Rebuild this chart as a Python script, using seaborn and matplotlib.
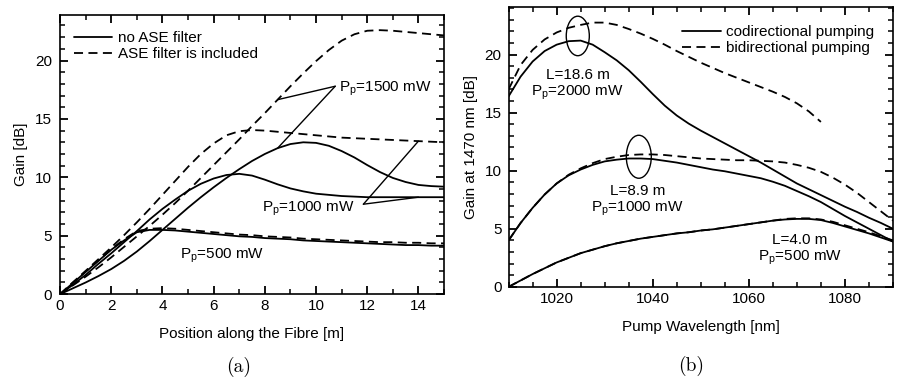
import numpy as np
import pandas as pd
import matplotlib
matplotlib.use("Agg")
import matplotlib.pyplot as plt
from matplotlib.lines import Line2D
from matplotlib.patches import Ellipse
from matplotlib.ticker import MultipleLocator
import seaborn as sns

# ---- data, panel (a): gain along the fibre ----
pos_m = np.arange(0, 15.01, 0.5)
gain_500_noase = [0, 0.95, 1.9, 2.85, 3.8, 4.6, 5.3, 5.5, 5.5, 5.45, 5.35, 5.25, 5.15, 5.05, 4.95, 4.9,
                  4.8, 4.75, 4.7, 4.6, 4.55, 4.5, 4.45, 4.4, 4.35, 4.3, 4.25, 4.2, 4.2, 4.15, 4.15]
gain_500_ase = [0, 1.0, 1.95, 2.9, 3.85, 4.7, 5.4, 5.6, 5.65, 5.6, 5.5, 5.4, 5.3, 5.2, 5.1, 5.05,
                4.95, 4.9, 4.85, 4.75, 4.7, 4.65, 4.6, 4.55, 4.5, 4.45, 4.45, 4.4, 4.4, 4.35, 4.35]
gain_1000_noase = [0, 0.8, 1.65, 2.6, 3.5, 4.45, 5.4, 6.4, 7.3, 8.1, 8.85, 9.45, 9.9, 10.2, 10.3, 10.15,
                   9.8, 9.4, 9.05, 8.8, 8.6, 8.5, 8.4, 8.35, 8.3, 8.3, 8.3, 8.3, 8.3, 8.3, 8.3]
gain_1000_ase = [0, 1.0, 2.0, 3.0, 4.0, 5.05, 6.15, 7.3, 8.5, 9.7, 10.9, 12.0, 12.9, 13.6, 13.95, 14.05,
                 14.0, 13.9, 13.8, 13.7, 13.6, 13.5, 13.4, 13.35, 13.3, 13.25, 13.2, 13.15, 13.1, 13.05, 13.0]
gain_1500_noase = [0, 0.5, 1.0, 1.55, 2.15, 2.85, 3.65, 4.55, 5.5, 6.45, 7.4, 8.3, 9.15, 9.95, 10.7, 11.4,
                   12.0, 12.5, 12.85, 13.0, 12.95, 12.7, 12.25, 11.7, 11.05, 10.45, 9.95, 9.6, 9.35, 9.25, 9.2]
gain_1500_ase = [0, 0.75, 1.5, 2.3, 3.15, 4.05, 4.95, 5.85, 6.8, 7.8, 8.85, 9.95, 11.05, 12.15, 13.25, 14.4,
                 15.5, 16.65, 17.8, 18.9, 19.95, 20.9, 21.7, 22.25, 22.55, 22.6, 22.55, 22.45, 22.35, 22.25, 22.15]

# ---- data, panel (b): gain at 1470 nm vs pump wavelength ----
wl_nm = np.arange(1010, 1090.1, 2.5)
g186_co = [16.4, 18.1, 19.4, 20.3, 20.85, 21.15, 21.2, 20.85, 20.2, 19.5, 18.65, 17.65, 16.6, 15.6, 14.75,
           14.05, 13.45, 12.9, 12.35, 11.8, 11.25, 10.7, 10.1, 9.5, 8.9, 8.4, 7.9, 7.4, 6.9, 6.45, 5.95, 5.5, 5.0]
g186_bi = [17.0, 19.1, 20.4, 21.3, 21.9, 22.3, 22.55, 22.75, 22.75, 22.55, 22.2, 21.8, 21.35, 20.85, 20.3,
           19.8, 19.3, 18.85, 18.4, 18.0, 17.6, 17.2, 16.8, 16.35, 15.8, 15.1, 14.2]
g89_co = [4.0, 5.5, 6.8, 7.95, 8.9, 9.6, 10.1, 10.5, 10.8, 10.95, 11.05, 11.05, 11.0, 10.85, 10.7, 10.5,
          10.3, 10.1, 9.95, 9.75, 9.55, 9.35, 9.05, 8.7, 8.25, 7.8, 7.3, 6.7, 6.1, 5.55, 5.0, 4.45, 3.9]
g89_bi = [4.0, 5.5, 6.8, 7.95, 8.9, 9.65, 10.2, 10.65, 11.0, 11.2, 11.35, 11.4, 11.4, 11.35, 11.25, 11.15,
          11.05, 11.0, 10.95, 10.9, 10.9, 10.85, 10.8, 10.7, 10.5, 10.25, 9.9, 9.4, 8.8, 8.1, 7.3, 6.5, 5.7]
g40_co = [0.0, 0.55, 1.1, 1.6, 2.1, 2.5, 2.9, 3.2, 3.5, 3.75, 3.95, 4.15, 4.3, 4.45, 4.6, 4.7,
          4.85, 4.95, 5.1, 5.25, 5.4, 5.55, 5.7, 5.8, 5.85, 5.85, 5.75, 5.5, 5.2, 4.9, 4.6, 4.25, 3.9]
g40_bi = [0.0, 0.55, 1.1, 1.6, 2.1, 2.5, 2.9, 3.2, 3.5, 3.75, 3.95, 4.15, 4.3, 4.45, 4.6, 4.7,
          4.85, 4.95, 5.1, 5.25, 5.4, 5.55, 5.7, 5.85, 5.9, 5.9, 5.8, 5.6, 5.3, 5.0, 4.7, 4.35, 4.0]

filters = ["no ASE filter", "ASE filter is included"]
pumping = ["codirectional pumping", "bidirectional pumping"]

rows = []
for name, filt, vals in [("500", filters[0], gain_500_noase), ("500", filters[1], gain_500_ase),
                         ("1000", filters[0], gain_1000_noase), ("1000", filters[1], gain_1000_ase),
                         ("1500", filters[0], gain_1500_noase), ("1500", filters[1], gain_1500_ase)]:
    for x, y in zip(pos_m, vals):
        rows.append({"pos": x, "gain": y, "curve": name + filt, "filter": filt})
df_a = pd.DataFrame(rows)

rows = []
for name, mode, vals in [("18.6", pumping[0], g186_co), ("18.6", pumping[1], g186_bi),
                         ("8.9", pumping[0], g89_co), ("8.9", pumping[1], g89_bi),
                         ("4.0", pumping[0], g40_co), ("4.0", pumping[1], g40_bi)]:
    for x, y in zip(wl_nm, vals):
        rows.append({"wl": x, "gain": y, "curve": name + mode, "mode": mode})
df_b = pd.DataFrame(rows)

sns.set_theme(style="ticks")
plt.rcParams.update({
    "font.family": ["Liberation Sans", "DejaVu Sans"],
    "font.size": 11,
    "xtick.labelsize": 11, "ytick.labelsize": 11, "axes.labelsize": 11, "legend.fontsize": 11,
    "mathtext.fontset": "custom", "mathtext.rm": "Liberation Sans",
    "mathtext.it": "Liberation Sans:italic", "mathtext.default": "regular",
    "axes.edgecolor": "black", "axes.linewidth": 1.2,
    "text.color": "black", "axes.labelcolor": "black",
    "xtick.direction": "in", "ytick.direction": "in",
})

fig = plt.figure(figsize=(8.97, 3.84), dpi=100)
ax1 = fig.add_axes([0.067, 0.234, 0.428, 0.727])
ax2 = fig.add_axes([0.567, 0.253, 0.4285, 0.729])

dash = (5, 3)
sns.lineplot(data=df_a, x="pos", y="gain", units="curve", estimator=None, style="filter",
             dashes={filters[0]: "", filters[1]: dash}, color="black", lw=1.3,
             legend=False, ax=ax1)
sns.lineplot(data=df_b, x="wl", y="gain", units="curve", estimator=None, style="mode",
             dashes={pumping[0]: "", pumping[1]: dash}, color="black", lw=1.3,
             legend=False, ax=ax2)

# panel (a)
ax1.set_xlim(0, 15)
ax1.set_ylim(0, 23.9)
ax1.xaxis.set_major_locator(MultipleLocator(2))
ax1.xaxis.set_minor_locator(MultipleLocator(1))
ax1.set_xlabel("Position along the Fibre [m]", labelpad=10)
ax1.set_ylabel("Gain [dB]", labelpad=5)

# panel (b)
ax2.set_xlim(1010, 1090)
ax2.set_ylim(0, 24.1)
ax2.xaxis.set_major_locator(MultipleLocator(20))
ax2.xaxis.set_minor_locator(MultipleLocator(5))
ax2.set_xlabel("Pump Wavelength [nm]", labelpad=10)
ax2.set_ylabel("Gain at 1470 nm [dB]", labelpad=5)

for ax in (ax1, ax2):
    ax.yaxis.set_major_locator(MultipleLocator(5))
    ax.yaxis.set_minor_locator(MultipleLocator(1))
    ax.tick_params(which="both", direction="in", top=True, right=True, color="black",
                   labelcolor="black")
    ax.tick_params(which="major", length=5.5, width=1.3)
    ax.tick_params(which="minor", length=3.5, width=1.1)
ax1.tick_params(axis="y", which="major", pad=6)
ax2.tick_params(axis="y", which="major", pad=5)

handles = [Line2D([], [], color="black", lw=1.3),
           Line2D([], [], color="black", lw=1.3, dashes=dash)]
ax1.legend(handles, filters, loc="upper left", bbox_to_anchor=(0.037, 0.943), frameon=False,
           borderaxespad=0, borderpad=0, handlelength=2.5, handletextpad=0.35, labelspacing=0.15)

def at(series, xs, x):
    return series[list(xs).index(x)]

ax1.text(10.9, 17.6, "P$_p$=1500 mW", ha="left", va="center")
for ys in (gain_1500_ase, gain_1500_noase):
    ax1.annotate("", xy=(8.5, at(ys, pos_m, 8.5)), xytext=(10.75, 17.8),
                 arrowprops=dict(arrowstyle="-", color="black", lw=1.0, shrinkA=0, shrinkB=0))
ax1.text(7.9, 7.3, "P$_p$=1000 mW", ha="left", va="center")
for ys in (gain_1000_ase, gain_1000_noase):
    ax1.annotate("", xy=(14, at(ys, pos_m, 14)), xytext=(11.85, 7.7),
                 arrowprops=dict(arrowstyle="-", color="black", lw=1.0, shrinkA=0, shrinkB=0))
ax1.text(4.7, 3.25, "P$_p$=500 mW", ha="left", va="center")

ax2.legend(handles, pumping, loc="upper left", bbox_to_anchor=(0.45, 0.935), frameon=False,
           borderaxespad=0, borderpad=0, handlelength=2.6, handletextpad=0.3, labelspacing=0.15)

ax2.add_patch(Ellipse((1024.4, 21.6), 4.8, 3.4, fill=False, ec="black", lw=1.0))
ax2.add_patch(Ellipse((1037.1, 11.2), 5.2, 3.7, fill=False, ec="black", lw=1.0))
ax2.text(1024.4, 17.4, "L=18.6 m\nP$_p$=2000 mW", ha="center", va="center", linespacing=1.15)
ax2.text(1036.9, 7.4, "L=8.9 m\nP$_p$=1000 mW", ha="center", va="center", linespacing=1.15)
ax2.text(1070.6, 3.2, "L=4.0 m\nP$_p$=500 mW", ha="center", va="center", linespacing=1.15)

fig.text(0.266, 0.044, "(a)", ha="center", va="center", fontsize=14, family="cmr10")
fig.text(0.770, 0.047, "(b)", ha="center", va="center", fontsize=14, family="cmr10")

fig.savefig("out.png", dpi=100)
